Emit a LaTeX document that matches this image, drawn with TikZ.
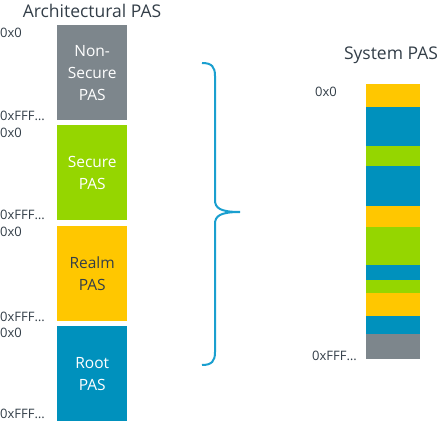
\documentclass[tikz,border=0pt]{standalone}
\usepackage{fontspec}
\setmainfont{Open Sans}
\usetikzlibrary{positioning}

\definecolor{armgrey}{HTML}{7D868C}
\definecolor{armgreen}{HTML}{95D600}
\definecolor{armyellow}{HTML}{FFC700}
\definecolor{armblue}{HTML}{0091BD}
\definecolor{armtext}{HTML}{333E48}
\definecolor{bracecol}{HTML}{1A9FCF}

\begin{document}
\begin{tikzpicture}[x=1pt,y=-1pt,
	pas/.style={minimum width=70pt,minimum height=95pt,inner sep=0pt,align=center,anchor=north west,font=\fontsize{15.5}{22}\selectfont},
	addr/.style={anchor=west,inner sep=0pt,text=armtext,font=\fontsize{13}{14}\selectfont},
	title/.style={inner sep=0pt,text=armtext,font=\fontsize{17.5}{20}\selectfont}]

		\useasboundingbox (0,0) rectangle (437,422);

		% architectural PAS
		\node [title] (arch) at (92,11) {Architectural PAS};

		\node [pas, fill=armgrey, text=white] (NS) at (57,25) {Non-\\Secure\\PAS};
		\node [pas, fill=armgreen, text=white] (S) at (57,125) {Secure\\PAS};
		\node [pas, fill=armyellow, text=armtext] (R) at (57,226) {Realm\\PAS};
		\node [pas, fill=armblue, text=white] (RT) at (57,326) {Root\\PAS};

		\node [addr] (ns0) at (0,33) {0x0};
		\node [addr] (ns1) at (0,116) {0xFFF…};
		\node [addr] (s0) at (0,133) {0x0};
		\node [addr] (s1) at (0,215) {0xFFF…};
		\node [addr] (r0) at (0,232) {0x0};
		\node [addr] (r1) at (0,317) {0xFFF…};
		\node [addr] (rt0) at (0,333) {0x0};
		\node [addr] (rt1) at (0,414) {0xFFF…};

		% brace
		\coordinate (T) at (202,63);
		\coordinate (M) at (240,212);
		\coordinate (B) at (202,365);
		\draw [bracecol, line width=2pt]
			(T) .. controls (212,63) and (215,67) .. (215,76)
			-- (215,200) .. controls (215,208) and (220,212) .. (M)
			.. controls (220,212) and (215,216) .. (215,224)
			-- (215,352) .. controls (215,361) and (212,365) .. (B);

		% system PAS
		\node [title] (sys) at (391,55) {System PAS};

		\foreach \ya/\yb/\c in {84/107/armyellow, 107/146/armblue, 146/166/armgreen,
			166/206/armblue, 206/227/armyellow, 227/265/armgreen, 265/280/armblue,
			280/293/armgreen, 293/316/armyellow, 316/334/armblue, 334/359/armgrey}
			\fill [\c] (366,\ya) rectangle (420,\yb);

		\node [addr] (sys0) at (315,92) {0x0};
		\node [addr] (sys1) at (312,356) {0xFFF…};

\end{tikzpicture}
\end{document}
